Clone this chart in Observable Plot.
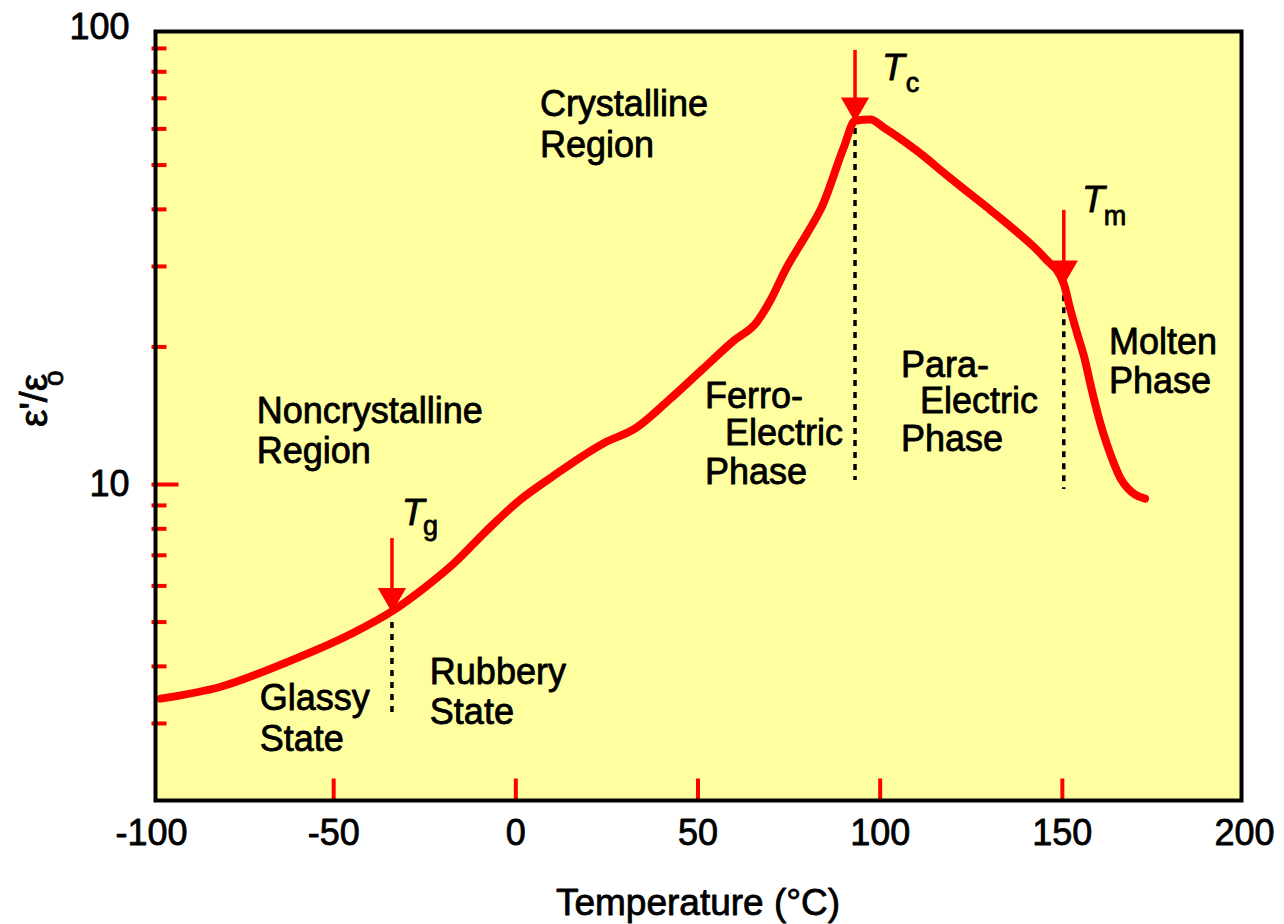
<!DOCTYPE html>
<html>
<head>
<meta charset="utf-8">
<script src="https://cdn.jsdelivr.net/npm/d3@7"></script>
<script src="https://cdn.jsdelivr.net/npm/@observablehq/plot@0.6"></script>
<style>
  body { margin: 0; background: #ffffff; }
</style>
</head>
<body>
<div id="chart"></div>
<script>
// Relative permittivity ε'/εo of a ferroelectric polymer versus temperature
const temperature = [-97.5, -81, -63, -45, -34, -25, -17, -8, 1, 10, 24, 33, 42, 51, 60, 66, 70, 74, 80, 84, 90, 93.1, 97.3, 101, 110, 119, 128, 137, 145, 150.4, 152, 154, 156, 158, 160, 162, 164, 166, 168, 170, 172.7];
const permittivity = [3.40, 3.61, 4.08, 4.72, 5.28, 5.95, 6.72, 7.93, 9.23, 10.4, 12.3, 13.3, 15.3, 17.8, 20.7, 22.6, 25.4, 29.5, 35.5, 40.5, 54.6, 62.5, 62.9, 60.4, 53.8, 47.0, 41.2, 36.0, 31.4, 27.5, 24.5, 21.5, 19.0, 16.2, 14.0, 12.4, 11.2, 10.3, 9.8, 9.5, 9.31];

// Transition temperatures: glass (Tg), Curie (Tc), melting (Tm)
const transitionSub = ["g", "c", "m"];
const transitionTemp = [-34.0, 93.1, 150.4];
const transitionEps = [5.28, 62.5, 27.5];
const arrowTop = [7.62, 89.1, 39.8];
const dashTop = [4.99, 60.1, 25.9];
const dashBottom = [3.12, 10.2, 9.75];

// Symbol label anchors (the "T" and its subscript)
const symbolTemp = [-31.3, 100.5, 155.4];
const symbolEps = [9.32, 87.7, 45.1];
const subTemp = [-25.5, 107.0, 161.4];
const subEps = [8.55, 79.7, 40.8];

// Region / phase annotations, one entry per text line
const regionText = ["Noncrystalline", "Region", "Glassy", "State", "Rubbery", "State", "Crystalline", "Region", "Ferro-", "Electric", "Phase", "Para-", "Electric", "Phase", "Molten", "Phase"];
const regionTemp = [-71.1, -71.1, -70.3, -70.3, -23.6, -23.6, 6.6, 6.6, 51.9, 57.4, 51.9, 105.7, 110.9, 105.7, 162.8, 162.8];
const regionEps = [15.5, 12.67, 3.65, 2.97, 4.16, 3.40, 72.8, 59.2, 16.7, 13.9, 11.4, 19.6, 16.3, 13.5, 21.95, 18.03];

// Axes
const xTickLabels = [-100, -50, 0, 50, 100, 150, 200];
const xInnerTicks = [-50, 0, 50, 100, 150];
const yTickLabels = [10, 100];
const yMinorTicks = [3, 4, 5, 6, 7, 8, 9, 20, 30, 40, 50, 60, 70, 80, 90];
const yMajorTicks = [10];

const curve = temperature.map((t, i) => ({t, e: permittivity[i]}));
const transitions = transitionSub.map((s, i) => ({
  sub: s, t: transitionTemp[i], e: transitionEps[i], top: arrowTop[i],
  d1: dashTop[i], d2: dashBottom[i],
  st: symbolTemp[i], se: symbolEps[i], bt: subTemp[i], be: subEps[i]
}));
const regions = regionText.map((s, i) => ({s, t: regionTemp[i], e: regionEps[i]}));

const RED = "#ff0000";
const FILL = "#ffff9f";
// plain straight tick stroke for the inner red ticks
const tickShape = {draw(context, l) { context.moveTo(0, 0); context.lineTo(0, -l); }};
// slightly heavier lettering
const ink = {fill: "black", stroke: "black", strokeWidth: 0.8};

const chart = Plot.plot({
  width: 1284,
  height: 924,
  marginLeft: 151,
  marginRight: 40,
  marginTop: 27,
  marginBottom: 124,
  x: {domain: [-100, 200], axis: null},
  y: {type: "log", domain: [2.035, 100], axis: null},
  style: {fontFamily: "'Liberation Sans', Arial, Helvetica, sans-serif", color: "black", background: "white"},
  marks: [
    Plot.frame({fill: FILL, stroke: null, insetTop: 4, insetLeft: 4, insetRight: 3}),
    // inner red ticks
    Plot.vector(yMinorTicks, {y: d => d, frameAnchor: "left", length: 15, rotate: 90, anchor: "start", shape: tickShape, stroke: RED, strokeWidth: 4, strokeLinecap: "butt"}),
    Plot.vector(yMajorTicks, {y: d => d, frameAnchor: "left", length: 27, rotate: 90, anchor: "start", shape: tickShape, stroke: RED, strokeWidth: 4, strokeLinecap: "butt"}),
    Plot.vector(xInnerTicks, {x: d => d, frameAnchor: "bottom", length: 22, anchor: "start", shape: tickShape, stroke: RED, strokeWidth: 4, strokeLinecap: "butt"}),
    // transition markers: dotted drop lines
    Plot.ruleX(transitions, {x: "t", y1: "d1", y2: "d2", stroke: "black", strokeWidth: 3.5, strokeDasharray: "6,6"}),
    // permittivity curve
    Plot.line(curve, {x: "t", y: "e", stroke: RED, strokeWidth: 8, curve: "monotone-x", strokeLinejoin: "round", strokeLinecap: "round"}),
    // arrows pointing at each transition
    Plot.ruleX(transitions, {x: "t", y1: "top", y2: "e", stroke: RED, strokeWidth: 3.5}),
    Plot.dot(transitions, {x: "t", y: "e", symbol: "triangle", rotate: 180, r: 10.5, fill: RED, stroke: null, dy: -15}),
    // transition symbols
    Plot.text(transitions, {x: "st", y: "se", text: () => "T", fontStyle: "italic", fontSize: 37, textAnchor: "start", lineAnchor: "top", ...ink}),
    Plot.text(transitions, {x: "bt", y: "be", text: "sub", fontSize: 27, textAnchor: "start", lineAnchor: "top", ...ink}),
    // region annotations
    Plot.text(regions, {x: "t", y: "e", text: "s", fontSize: 36, textAnchor: "start", lineAnchor: "top", ...ink}),
    // tick labels
    Plot.text(xTickLabels, {x: d => d, text: d => String(d), frameAnchor: "bottom", dy: 19, lineAnchor: "top", fontSize: 36, ...ink}),
    Plot.text(yTickLabels, {y: d => d, text: d => String(d), frameAnchor: "left", dx: -22, textAnchor: "end", fontSize: 36, ...ink}),
    // axis titles
    Plot.text(["Temperature (°C)"], {text: d => d, frameAnchor: "bottom", dy: 88, lineAnchor: "top", fontSize: 37, ...ink}),
    Plot.text(["ε'/ε"], {text: d => d, frameAnchor: "left", dx: -117, dy: 13, rotate: -90, fontSize: 39, ...ink}),
    Plot.text(["o"], {text: d => d, frameAnchor: "left", dx: -97, dy: -28, rotate: -90, fontSize: 28, ...ink}),
    Plot.frame({stroke: "black", strokeWidth: 4, insetTop: 4, insetLeft: 4, insetRight: 3})
  ]
});

document.getElementById("chart").append(chart);
</script>
</body>
</html>
